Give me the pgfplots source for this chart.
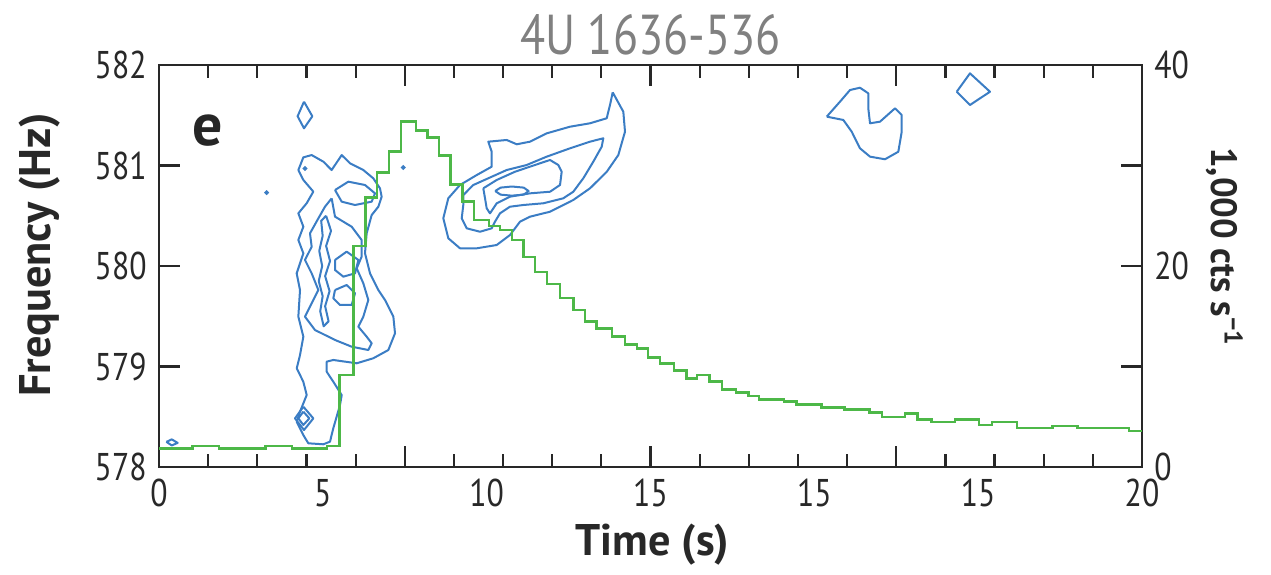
\documentclass[border=0pt]{standalone}
\usepackage{fontspec}
\setmainfont{PT Sans}
\newfontfamily\tickfont[FakeStretch=0.82]{PT Sans}
\usepackage{pgfplots}
\pgfplotsset{compat=1.18}
\definecolor{cblue}{RGB}{59,125,196}
\definecolor{cgreen}{RGB}{77,184,72}
\definecolor{axgray}{RGB}{40,40,40}
\definecolor{titlegray}{RGB}{128,128,128}

\pgfplotsset{
  myaxis/.style={
    width=98.3mm, height=40.2mm, scale only axis,
    at={(0,0)}, anchor=south west,
    xmin=0, xmax=20,
    tick align=inside,
    axis line style={line width=0.25mm, draw=axgray},
    tick style={line width=0.22mm, draw=axgray},
    major tick length=2.1mm, minor tick length=1.27mm,
    ticklabel style={font=\tickfont\fontsize{11}{12}\selectfont, text=axgray},
    label style={font=\bfseries\fontsize{12.6}{14}\selectfont, text=axgray},
  },
  contour/.style={cblue, line width=0.2mm, line join=round},
}

\begin{document}
\begin{tikzpicture}
% frequency axis with the contours
\begin{axis}[myaxis, name=freq,
  ymin=578, ymax=582,
  xtick={5,10,15}, xticklabels={},
  minor xtick={1,2,3,4,6,7,8,9,11,12,13,14,16,17,18,19},
  extra x ticks={0,3.3333,6.6667,10,13.3333,16.6667,20},
  extra x tick labels={0,5,10,15,15,15,20},
  extra x tick style={major tick length=0pt},
  ytick={578,579,580,581,582}, yticklabels={578,579,580,581,582},
  ytick pos=left,
  xlabel={Time (s)},
  xlabel style={at={(axis description cs:0.502,-0.194)}, anchor=center},
  ylabel={Frequency (Hz)},
  ylabel style={at={(axis description cs:-0.121,0.527)}, anchor=center},
]
% left column
\addplot[contour] coordinates {
(2.835,580.955) (2.937,581.081) (3.106,581.104) (3.344,581.038) (3.513,580.955)
(3.717,581.104) (3.886,581.022) (4.157,580.955) (4.361,580.872) (4.496,580.773)
(4.530,580.690) (4.463,580.590) (4.327,580.507) (4.225,580.325) (4.191,580.126)
(4.293,579.927) (4.463,579.761) (4.598,579.662) (4.768,579.496) (4.802,579.330)
(4.666,579.164) (4.360,579.082) (4.022,579.032) (3.546,579.065) (3.412,579.048)
(3.412,578.948) (3.546,578.849) (3.717,578.716) (3.683,578.617) (3.546,578.385)
(3.479,578.252) (3.343,578.226) (3.038,578.236) (2.936,578.318) (2.802,578.450)
(2.869,578.550) (3.005,578.716) (2.936,578.849) (2.802,578.982) (2.869,579.114)
(2.937,579.297) (2.835,579.496)
(2.869,579.761) (2.801,579.927) (2.937,580.126) (2.835,580.259) (2.937,580.391)
(2.835,580.524) (3.004,580.624) (3.140,580.740) (2.937,580.856) (2.835,580.955)};
\addplot[contour] coordinates {
(3.581,580.756) (3.852,580.839) (4.191,580.806) (4.395,580.723) (4.327,580.640)
(3.988,580.607) (3.717,580.640) (3.581,580.756)};
\addplot[contour] coordinates {
(3.513,580.673) (3.581,580.491) (3.920,580.391) (4.123,580.259) (4.123,580.093)
(4.022,579.977) (4.157,579.828) (4.259,579.662) (4.157,579.496) (4.056,579.396)
(4.225,579.297) (4.327,579.231) (4.259,579.164) (3.920,579.197) (3.581,579.264)
(3.174,579.363) (2.970,579.496) (3.242,579.761) (3.106,579.927) (2.970,580.060)
(3.106,580.192) (3.072,580.325) (3.242,580.474) (3.377,580.590) (3.513,580.673)};
\addplot[contour] coordinates {
(3.40,580.50) (3.50,580.35) (3.40,580.20) (3.48,580.05) (3.38,579.90) (3.47,579.75)
(3.38,579.60) (3.45,579.45) (3.35,579.40) (3.28,579.55) (3.33,579.70) (3.25,579.85)
(3.32,580.00) (3.26,580.15) (3.33,580.30) (3.30,580.45) (3.40,580.50)};
\addplot[contour] coordinates {
(3.581,580.060) (3.818,580.143) (4.056,580.060) (3.988,579.927) (3.750,579.894)
(3.581,579.960) (3.581,580.060)};
\addplot[contour] coordinates {
(3.581,579.761) (3.818,579.811) (3.988,579.728) (3.920,579.612) (3.683,579.612)
(3.547,579.678) (3.581,579.761)};
\addplot[contour] coordinates {
(2.937,578.600) (3.140,578.484) (2.950,578.368) (2.767,578.484) (2.937,578.600)};
\addplot[contour] coordinates {
(2.937,578.551) (3.059,578.484) (2.937,578.418) (2.835,578.484) (2.937,578.551)};
% small diamond above
\addplot[contour] coordinates {
(2.95,581.635) (3.12,581.49) (2.95,581.37) (2.82,581.49) (2.95,581.635)};
% blob at start
\addplot[contour] coordinates {
(0.15,578.25) (0.26,578.275) (0.38,578.24) (0.26,578.215) (0.15,578.25)};
\addplot[cblue, only marks, mark=*, mark size=0.45pt] coordinates {
(2.19,580.73) (4.97,580.98) (2.97,580.97)};
% right structure
\addplot[contour] coordinates {
(9.231,581.728) (9.447,581.535) (9.481,581.336) (9.345,581.104) (9.109,580.937)
(8.769,580.773) (8.429,580.657) (7.955,580.540) (7.548,580.491) (7.345,580.441)
(7.141,580.308) (6.871,580.209) (6.464,580.176) (6.124,580.176) (5.886,580.276)
(5.784,580.475) (5.886,580.674) (6.124,580.806) (6.464,580.905) (6.769,580.988)
(6.769,581.137) (6.700,581.237) (7.074,581.254) (7.278,581.211) (7.548,581.237)
(7.888,581.320) (8.362,581.386) (8.769,581.420) (9.109,581.470) (9.176,581.602)
(9.231,581.728)};
\addplot[contour] coordinates {
(6.191,580.706) (6.395,580.806) (6.700,580.873) (7.074,580.955) (7.481,581.005)
(7.888,581.088) (8.362,581.171) (8.769,581.237) (9.040,581.271) (9.007,581.187)
(8.836,581.038) (8.633,580.873) (8.429,580.739) (8.226,580.674) (7.819,580.624)
(7.412,580.607) (7.141,580.590) (6.938,580.524) (6.836,580.441) (6.769,580.375)
(6.531,580.341) (6.260,580.375) (6.159,580.475) (6.191,580.607) (6.191,580.706)};
\addplot[contour] coordinates {
(6.598,580.773) (6.871,580.856) (7.243,580.938) (7.752,581.022) (7.955,581.055)
(8.124,581.005) (8.193,580.938) (8.159,580.806) (7.955,580.739) (7.548,580.723)
(7.141,580.690) (6.871,580.624) (6.734,580.524) (6.667,580.574) (6.633,580.674)
(6.598,580.773)};
\addplot[contour] coordinates {
(6.84,580.746) (6.95,580.78) (7.18,580.791) (7.42,580.78) (7.52,580.746)
(7.42,580.71) (7.18,580.70) (6.95,580.71) (6.84,580.746)};
% top right
\addplot[contour] coordinates {
(13.585,581.486) (13.855,581.635) (14.059,581.751) (14.262,581.774) (14.431,581.718)
(14.431,581.569) (14.466,581.420) (14.669,581.436) (14.974,581.569) (15.111,581.502)
(15.111,581.336) (15.042,581.137) (14.771,581.062) (14.466,581.088) (14.262,581.171)
(14.094,581.336) (13.923,581.453) (13.585,581.486)};
\addplot[contour] coordinates {
(16.230,581.734) (16.500,581.917) (16.907,581.734) (16.500,581.602) (16.230,581.734)};
\node[font=\bfseries\fontsize{17}{18}\selectfont, text=black!85]
  at (axis description cs:0.05,0.838) {e};
\end{axis}
% count-rate axis with the light curve
\begin{axis}[myaxis,
  ymin=0, ymax=40,
  hide x axis,
  ytick={0,10,20,30,40}, yticklabels={0,,20,,40},
  ytick pos=right, yticklabel pos=right,
  ylabel={1,000 cts s\textsuperscript{−1}},
  ylabel style={at={(axis description cs:1.084,0.547)}, anchor=center, rotate=180,
    font=\bfseries\fontsize{10.4}{12}\selectfont},
]
\addplot[const plot, cgreen, line width=0.25mm] coordinates {
(0,1.86) (0.68,2.09) (1.22,1.86) (2.17,2.09) (2.71,1.86) (3.42,2.09) (3.67,9.15)
(3.96,22.0) (4.20,26.8) (4.44,29.3) (4.68,31.4) (4.92,34.4) (5.23,33.5) (5.46,32.8)
(5.70,31.0) (5.93,28.1) (6.17,26.4) (6.41,24.6) (6.71,24.0) (6.94,23.6) (7.18,22.6)
(7.42,20.9) (7.65,19.4) (7.89,18.2) (8.16,16.8) (8.43,15.6) (8.67,14.5) (8.90,13.8)
(9.22,13.0) (9.48,12.2) (9.72,11.8) (9.95,10.9) (10.19,10.3) (10.48,9.6) (10.73,8.8)
(10.95,9.15) (11.2,8.5) (11.45,7.7) (11.74,7.4) (11.99,7.06) (12.21,6.7) (12.72,6.5)
(12.97,6.2) (13.48,5.9) (13.95,5.7) (14.46,5.4) (14.71,5.0) (15.18,5.3) (15.43,4.75)
(15.72,4.5) (16.19,4.75) (16.68,4.2) (16.95,4.5) (17.46,3.9) (18.18,4.1) (18.69,3.9)
(19.74,3.6) (20,3.6)};
\end{axis}
\path (freq.north) ++(0,3mm) node[font=\tickfont\fontsize{16}{17}\selectfont,
  text=titlegray] {4U 1636-536};
\pgfresetboundingbox
\path[use as bounding box] (-15.9mm,-10.7mm) rectangle (111.2mm,46.7mm);
\end{tikzpicture}
\end{document}
